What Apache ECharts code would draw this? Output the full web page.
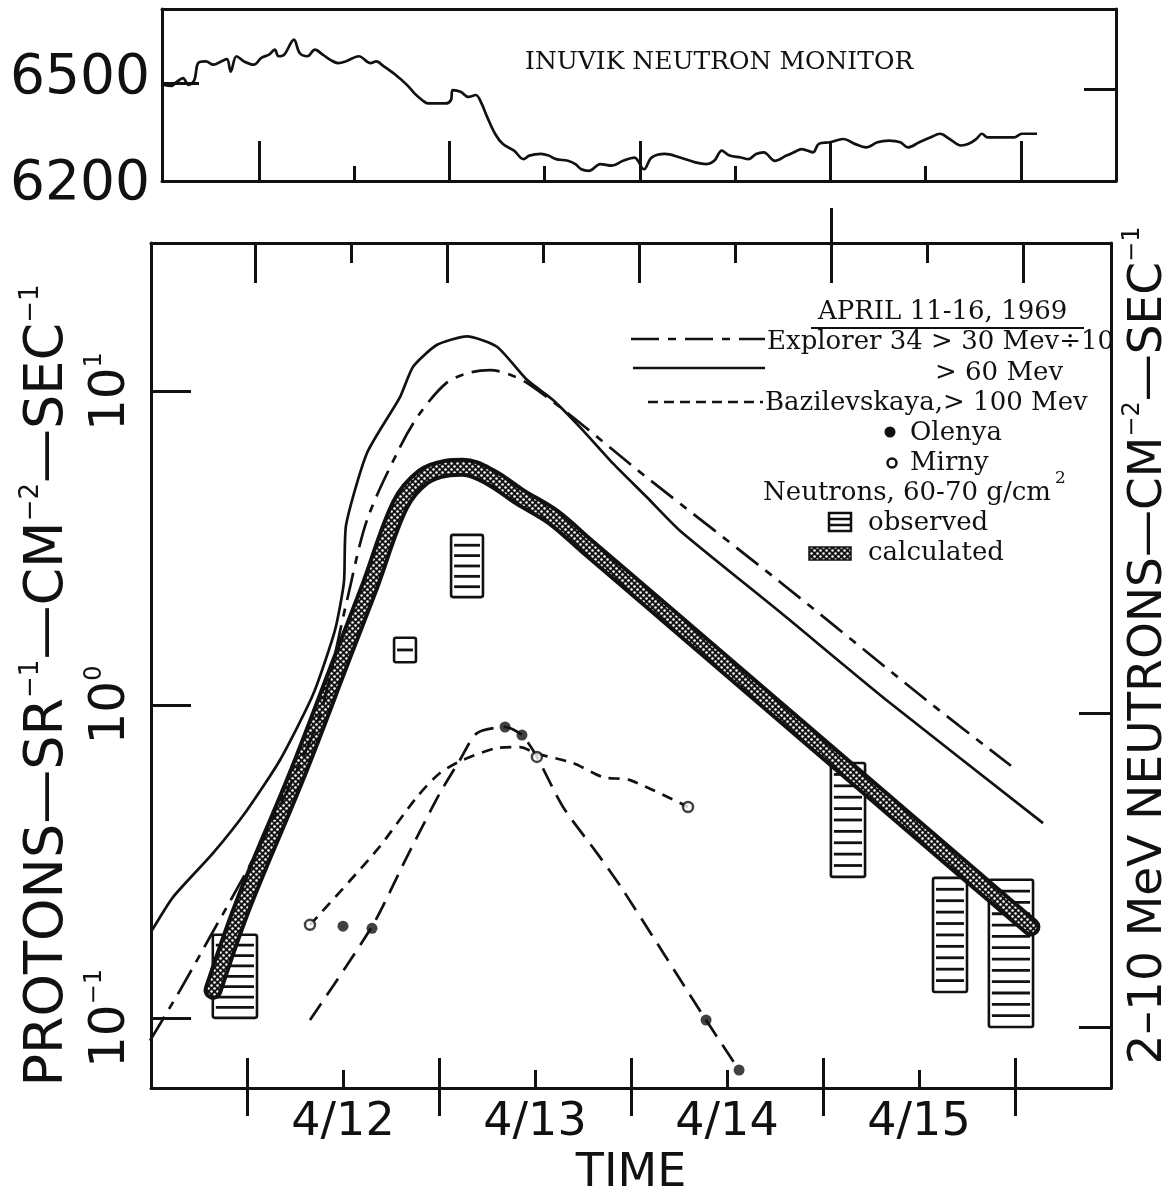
<!DOCTYPE html>
<html><head><meta charset="utf-8">
<script src="https://cdn.jsdelivr.net/npm/echarts@6/dist/echarts.min.js"></script>
<style>html,body{margin:0;padding:0;background:#fff}#main{width:1175px;height:1194px}</style>
</head><body><div id="main"></div>
<script>
// ---------------- DATA ----------------
// Time axis: days since 1969-04-11 00:00 UT (1 = 4/12 00:00)
const dayTicks = [1, 2, 3, 4, 5];
const halfDayTicks = [1.5, 2.5, 3.5, 4.5];
const dayLabels = ['4/12', '4/13', '4/14', '4/15'];
const countTickLabels = [6200, 6500];

// Inuvik neutron monitor (counts)
const neutronTime = [0.499,0.539,0.569,0.600,0.630,0.660,0.680,0.720,0.760,0.801,0.831,0.851,0.881,0.921,0.972,1.012,1.052,1.082,1.102,1.132,1.183,1.213,1.253,1.293,1.334,1.374,1.414,1.454,1.524,1.585,1.615,1.655,1.716,1.776,1.816,1.857,1.887,1.977,2.007,2.017,2.058,2.098,2.138,2.168,2.198,2.239,2.279,2.339,2.389,2.419,2.480,2.520,2.560,2.621,2.661,2.692,2.732,2.792,2.852,2.911,2.971,3.021,3.061,3.131,3.211,3.291,3.350,3.390,3.430,3.470,3.530,3.570,3.610,3.650,3.709,3.769,3.809,3.849,3.909,3.939,3.998,4.068,4.128,4.188,4.247,4.307,4.367,4.407,4.467,4.527,4.576,4.626,4.686,4.726,4.766,4.796,4.826,4.886,4.965,5.005,5.085];
const neutronRate = [6495,6492,6505,6516,6495,6510,6562,6567,6557,6567,6574,6536,6583,6567,6557,6578,6588,6603,6583,6588,6634,6593,6583,6603,6588,6572,6562,6567,6583,6562,6567,6552,6526,6495,6469,6448,6438,6438,6448,6479,6474,6458,6464,6438,6396,6345,6314,6293,6267,6278,6283,6278,6267,6262,6252,6236,6231,6252,6247,6262,6272,6236,6272,6283,6272,6257,6252,6262,6293,6278,6272,6267,6283,6288,6262,6278,6288,6298,6288,6314,6319,6329,6314,6303,6319,6324,6319,6303,6319,6334,6345,6329,6309,6314,6329,6345,6334,6334,6334,6345,6345];

// Explorer 34 > 60 MeV (solid)
const p60Time = [0.505,0.615,0.823,1.0,1.172,1.344,1.458,1.505,1.516,1.625,1.797,1.865,1.99,2.146,2.302,2.458,2.594,2.734,2.906,3.083,3.255,3.776,4.328,5.146];
const p60Flux = [0.191,0.244,0.337,0.462,0.668,1.08,1.73,2.47,3.75,6.37,9.6,12.0,14.1,15.0,13.9,10.9,9.4,7.7,5.9,4.6,3.6,1.98,1.04,0.42];

// Explorer 34 > 30 MeV / 10 (dash-dot)
const p30Time = [0.495,0.651,0.807,1.016,1.224,1.380,1.521,1.625,1.797,1.901,2.042,2.161,2.266,2.474,3.099,3.776,4.536,4.979];
const p30Flux = [0.085,0.123,0.182,0.309,0.556,0.929,2.16,3.89,6.65,8.53,10.7,11.5,11.7,10.5,5.22,2.47,1.04,0.64];

// Neutrons calculated (stippled band)
const calcTime = [0.823,0.979,1.260,1.5,1.641,1.797,1.917,2.042,2.125,2.266,2.422,2.594,2.771,3.115,3.661,4.177,4.75,5.083];
const calcFlux = [0.123,0.230,0.598,1.44,2.41,4.35,5.34,5.70,5.74,5.34,4.61,3.98,3.21,2.12,1.094,0.586,0.293,0.196];

// Neutrons observed (hatched boxes): time span and flux range
const obsStart = [0.822,1.766,2.063,4.041,4.573,4.864];
const obsEnd   = [1.052,1.880,2.229,4.219,4.750,5.094];
const obsLow   = [0.1005,1.37,2.21,0.283,0.1215,0.094];
const obsHigh  = [0.185,1.64,3.49,0.653,0.281,0.277];

// Bazilevskaya > 100 MeV
const olenyaCurveTime = [1.328,1.656,1.833,2.005,2.109,2.198,2.344,2.432,2.510,2.646,2.823,2.958,3.391,3.563];
const olenyaCurveFlux = [0.0989,0.199,0.328,0.524,0.668,0.814,0.851,0.802,0.683,0.473,0.337,0.257,0.0989,0.0685];
const olenyaTime = [1.5,1.651,2.344,2.432,3.391,3.563];
const olenyaFlux = [0.197,0.194,0.851,0.802,0.0989,0.0685];
const mirnyCurveTime = [1.328,1.677,1.885,2.005,2.125,2.302,2.422,2.510,2.698,2.854,2.995,3.297];
const mirnyCurveFlux = [0.199,0.345,0.509,0.607,0.668,0.729,0.734,0.700,0.653,0.589,0.576,0.473];
const mirnyTime = [1.328,2.510,3.297];
const mirnyFlux = [0.199,0.683,0.473];

// ---------------- CHART ----------------
const ink = '#111';
const zip = (a, b) => a.map((v, i) => [v, b[i]]);
function makeStipple() {
  const c = document.createElement('canvas'); c.width = 6; c.height = 6;
  const g = c.getContext('2d');
  g.fillStyle = '#151515'; g.fillRect(0, 0, 6, 6);
  g.fillStyle = '#fff';
  g.beginPath(); g.arc(1.5, 1.5, 1.25, 0, Math.PI * 2); g.fill();
  g.beginPath(); g.arc(4.5, 4.5, 1.25, 0, Math.PI * 2); g.fill();
  return c;
}
const stipple = { image: makeStipple(), repeat: 'repeat' };
const W = 2.7;
const axLine = { show: true, onZero: false, lineStyle: { color: ink, width: 3 } };
const noLine = { show: false, onZero: false };
const tk = (vals, len, inside = true) => ({ show: true, inside, length: len, customValues: vals, lineStyle: { color: ink, width: 3 } });
const off = { show: false };
const sans = 'DejaVu Sans';
const decadeExp = { '0.1': '−1', '1': '0', '10': '1' };
const legendFont = '26px "DejaVu Serif"';

function xa(grid, pos, min, max, line, tick, extra) {
  return Object.assign({ gridIndex: grid, type: 'value', position: pos, min, max, axisLine: line, axisTick: tick, axisLabel: off, splitLine: off }, extra || {});
}
function txt(x, y, text, font) {
  return { type: 'text', x, y, style: { text, font: font || legendFont, fill: ink, textVerticalAlign: 'middle', verticalAlign: 'middle' } };
}

const option = {
  animation: false,
  backgroundColor: '#fff',
  grid: [
    { left: 162, top: 9, width: 954, height: 172, containLabel: false, outerBoundsMode: 'none' },
    { left: 151, top: 243, width: 960, height: 845, containLabel: false, outerBoundsMode: 'none' }
  ],
  xAxis: [
    xa(0, 'bottom', 0.49, 5.5, axLine, tk(dayTicks, 40)),
    xa(0, 'bottom', 0.49, 5.5, noLine, tk(halfDayTicks, 15)),
    xa(0, 'top', 0.49, 5.5, axLine, off),
    xa(1, 'bottom', 0.5, 5.5, axLine, tk(dayTicks, 30), {
      axisLabel: { show: true, customValues: halfDayTicks, margin: 12, fontFamily: sans, fontSize: 46, color: ink,
        formatter: v => dayLabels[halfDayTicks.indexOf(v)] || '' },
      name: 'TIME', nameLocation: 'middle', nameGap: 58,
      nameTextStyle: { fontFamily: sans, fontSize: 46, color: ink }
    }),
    xa(1, 'bottom', 0.5, 5.5, noLine, tk(dayTicks, 28, false)),
    xa(1, 'bottom', 0.5, 5.5, noLine, tk(halfDayTicks, 18)),
    xa(1, 'top', 0.458, 5.458, axLine, tk(dayTicks, 40)),
    xa(1, 'top', 0.458, 5.458, noLine, tk(halfDayTicks, 20)),
    xa(1, 'top', 0.458, 5.458, noLine, tk([4], 35, false))
  ],
  yAxis: [
    { gridIndex: 0, type: 'value', position: 'left', min: 6200, max: 6728, axisLine: axLine, splitLine: off,
      axisTick: tk([6500], 37),
      axisLabel: { show: true, customValues: countTickLabels, margin: 12,
        formatter: v => v === 6500 ? '{u|' + v + '}' : '{d|' + v + '}',
        rich: { u: { fontFamily: sans, fontSize: 55, color: ink, padding: [0, 0, 10, 0] },
                d: { fontFamily: sans, fontSize: 55, color: ink, padding: [8, 0, 0, 0] } } } },
    { gridIndex: 0, type: 'value', position: 'right', min: 6200, max: 6728, axisLine: axLine, splitLine: off,
      axisTick: tk([6482], 32), axisLabel: off },
    { gridIndex: 1, type: 'log', logBase: 10, position: 'left', min: 0.06003, max: 29.78, axisLine: axLine, splitLine: off,
      axisTick: { show: true, inside: true, length: 40, lineStyle: { color: ink, width: 3 } },
      minorTick: off,
      axisLabel: { show: true, rotate: 90, margin: 12, showMinLabel: false, showMaxLabel: false,
        formatter: v => { const k = String(+(+v).toPrecision(6)); return decadeExp[k] !== undefined ? '{b|10}{s|' + decadeExp[k] + '}' : ''; },
        rich: { b: { fontFamily: sans, fontSize: 50, color: ink, lineHeight: 56 },
                s: { fontFamily: sans, fontSize: 24, color: ink, verticalAlign: 'top', lineHeight: 24 } } },
      name: '{t|PROTONS—SR}{s|−1}{t|—CM}{s|−2}{t|—SEC}{s|−1}',
      nameLocation: 'middle', nameRotate: 90, nameGap: 58,
      nameTextStyle: { padding: [0, 40, 0, 0], rich: {
        t: { fontFamily: sans, fontSize: 54, color: ink, lineHeight: 60 },
        s: { fontFamily: sans, fontSize: 26, color: ink, verticalAlign: 'top', lineHeight: 26 } } } },
    { gridIndex: 1, type: 'value', position: 'right', min: -1.193, max: 1.499, axisLine: axLine, splitLine: off,
      axisTick: tk([-1, 0], 32), axisLabel: off,
      name: '{t|2–10 MeV NEUTRONS—CM}{s|−2}{t|—SEC}{s|−1}',
      nameLocation: 'middle', nameRotate: 90, nameGap: 10,
      nameTextStyle: { padding: [0, 0, 0, 40], rich: {
        t: { fontFamily: sans, fontSize: 47, color: ink, lineHeight: 56 },
        s: { fontFamily: sans, fontSize: 24, color: ink, verticalAlign: 'top', lineHeight: 24 } } } }
  ],
  series: [
    { type: 'line', xAxisIndex: 0, yAxisIndex: 0, data: zip(neutronTime, neutronRate), symbol: 'none', smooth: 0.35,
      lineStyle: { color: ink, width: W } },
    { type: 'custom', xAxisIndex: 3, yAxisIndex: 2, z: 3,
      data: obsStart.map((s, i) => [s, obsEnd[i], obsLow[i], obsHigh[i]]),
      encode: { x: [0, 1], y: [2, 3] },
      renderItem: (params, api) => {
        const tl = api.coord([api.value(0), api.value(3)]);
        const br = api.coord([api.value(1), api.value(2)]);
        const x = tl[0], y = tl[1], w = br[0] - tl[0], h = br[1] - tl[1];
        const n = Math.max(2, Math.round(h / 11));
        const kids = [{ type: 'rect', shape: { x, y, width: w, height: h, r: 2 }, style: { fill: '#fff', stroke: ink, lineWidth: 2.6 } }];
        for (let i = 1; i < n; i++) {
          const yy = y + h * i / n;
          kids.push({ type: 'line', shape: { x1: x + 3, y1: yy, x2: x + w - 3, y2: yy }, style: { stroke: ink, lineWidth: 2.8 } });
        }
        return { type: 'group', children: kids };
      } },
    { type: 'line', xAxisIndex: 3, yAxisIndex: 2, z: 4, data: zip(calcTime, calcFlux), symbol: 'none', smooth: 0.35,
      lineStyle: { color: ink, width: 19, cap: 'round' } },
    { type: 'line', xAxisIndex: 3, yAxisIndex: 2, z: 5, data: zip(calcTime, calcFlux), symbol: 'none', smooth: 0.35,
      lineStyle: { color: stipple, width: 11, cap: 'round' } },
    { type: 'line', xAxisIndex: 3, yAxisIndex: 2, z: 6, data: zip(p60Time, p60Flux), symbol: 'none', smooth: 0.2,
      lineStyle: { color: ink, width: W } },
    { type: 'line', xAxisIndex: 3, yAxisIndex: 2, z: 6, data: zip(p30Time, p30Flux), symbol: 'none', smooth: 0.3,
      lineStyle: { color: ink, width: W, type: [28, 9, 8, 9] } },
    { type: 'line', xAxisIndex: 3, yAxisIndex: 2, z: 6, data: zip(olenyaCurveTime, olenyaCurveFlux), symbol: 'none', smooth: 0.25,
      lineStyle: { color: ink, width: W, type: [20, 10] } },
    { type: 'line', xAxisIndex: 3, yAxisIndex: 2, z: 6, data: zip(mirnyCurveTime, mirnyCurveFlux), symbol: 'none', smooth: 0.25,
      lineStyle: { color: ink, width: W, type: [11, 8] } },
    { type: 'scatter', xAxisIndex: 3, yAxisIndex: 2, z: 8, data: zip(olenyaTime, olenyaFlux), symbol: 'circle', symbolSize: 11,
      itemStyle: { color: ink } },
    { type: 'scatter', xAxisIndex: 3, yAxisIndex: 2, z: 8, data: zip(mirnyTime, mirnyFlux), symbol: 'circle', symbolSize: 10,
      itemStyle: { color: '#fff', borderColor: ink, borderWidth: 2.5 } }
  ],
  graphic: [
    txt(525, 62, 'INUVIK NEUTRON MONITOR', '25px "DejaVu Serif"'),
    txt(818, 312, 'APRIL 11-16, 1969'),
    { type: 'line', shape: { x1: 811, y1: 328, x2: 1084, y2: 328 }, style: { stroke: ink, lineWidth: 2 } },
    { type: 'line', shape: { x1: 631, y1: 339, x2: 765, y2: 339 }, style: { stroke: ink, lineWidth: W, lineDash: [28, 9, 8, 9] } },
    txt(767, 342, 'Explorer 34 > 30 Mev÷10'),
    { type: 'line', shape: { x1: 633, y1: 368, x2: 765, y2: 368 }, style: { stroke: ink, lineWidth: W } },
    txt(935, 373, '> 60 Mev'),
    { type: 'line', shape: { x1: 648, y1: 402, x2: 763, y2: 402 }, style: { stroke: ink, lineWidth: W, lineDash: [10, 6] } },
    txt(765, 403, 'Bazilevskaya,> 100 Mev'),
    { type: 'circle', shape: { cx: 890, cy: 432, r: 5.5 }, style: { fill: ink } },
    txt(910, 433, 'Olenya'),
    { type: 'circle', shape: { cx: 892, cy: 463, r: 4.5 }, style: { fill: '#fff', stroke: ink, lineWidth: 2.5 } },
    txt(910, 463, 'Mirny'),
    txt(763, 493, 'Neutrons, 60-70 g/cm'),
    txt(1055, 479, '2', '17px "DejaVu Serif"'),
    { type: 'rect', shape: { x: 829, y: 513, width: 22, height: 18 }, style: { fill: '#fff', stroke: ink, lineWidth: 2.5 } },
    { type: 'line', shape: { x1: 830, y1: 519, x2: 850, y2: 519 }, style: { stroke: ink, lineWidth: 2.5 } },
    { type: 'line', shape: { x1: 830, y1: 525, x2: 850, y2: 525 }, style: { stroke: ink, lineWidth: 2.5 } },
    txt(868, 523, 'observed'),
    { type: 'rect', shape: { x: 809, y: 547, width: 42, height: 13 }, style: { fill: stipple, stroke: ink, lineWidth: 1.5 } },
    txt(868, 553, 'calculated')
  ]
};
const chart = echarts.init(document.getElementById('main'));
chart.setOption(option);
</script></body></html>
